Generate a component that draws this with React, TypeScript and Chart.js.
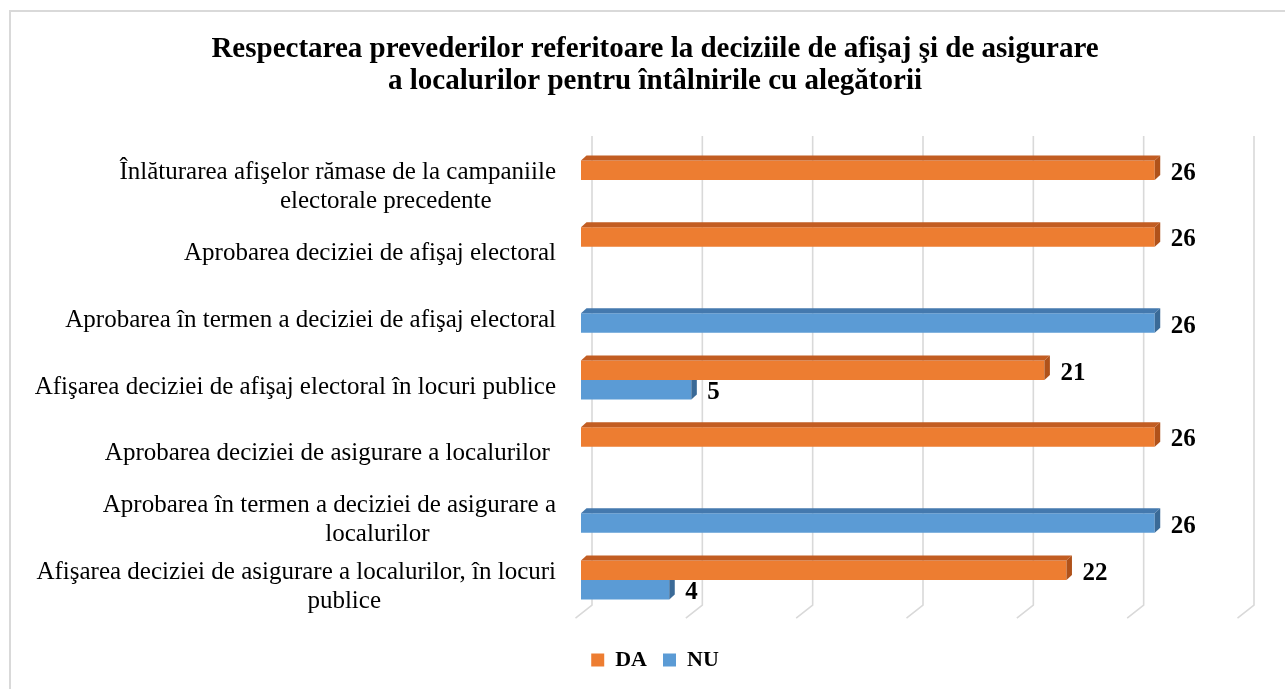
import React, { useEffect, useRef } from "react";
import { Chart, registerables } from "chart.js";

Chart.register(...registerables);

// ---------- data ----------
const titleLines = [
  "Respectarea prevederilor referitoare la deciziile de afişaj şi de asigurare",
  "a localurilor pentru întâlnirile cu alegătorii",
];
const categories: string[][] = [
  ["Înlăturarea afişelor rămase de la campaniile", "electorale precedente"],
  ["Aprobarea deciziei de afişaj electoral"],
  ["Aprobarea în termen a deciziei de afişaj electoral"],
  ["Afişarea deciziei de afişaj electoral în locuri publice"],
  ["Aprobarea deciziei de asigurare a localurilor "],
  ["Aprobarea în termen a deciziei de asigurare a", "localurilor"],
  ["Afişarea deciziei de asigurare a localurilor, în locuri", "publice"],
];
const seriesNames = ["DA", "NU"];
const daValues: (number | null)[] = [26, 26, null, 21, 26, null, 22];
const nuValues: (number | null)[] = [null, null, 26, 5, null, 26, 4];
const axisMin = 0;
const axisMax = 30;
const axisStep = 5;

// ---------- style ----------
const FONT = '"Liberation Serif", "Times New Roman", serif';
const frontColors = ["#ED7D31", "#5B9BD5"];
const topColors = ["#C25D22", "#4479AE"];
const sideColors = ["#B0521A", "#3A6A97"];
const DEPTH_X = 5.5;
const DEPTH_Y = 5;

const gridPlugin = {
  id: "backGrid",
  beforeDatasetsDraw(chart: any) {
    const { ctx, chartArea } = chart;
    const xs = chart.scales.x;
    ctx.save();
    ctx.strokeStyle = "#d9d9d9";
    ctx.lineWidth = 1.6;
    const top = chartArea.top - 10.7;
    const bottom = chartArea.bottom - 8.3;
    xs.ticks.forEach((t: any) => {
      const x = xs.getPixelForValue(t.value) + 11;
      ctx.beginPath();
      ctx.moveTo(x, top);
      ctx.lineTo(x, bottom);
      ctx.lineTo(x - 16.5, bottom + 13);
      ctx.stroke();
    });
    ctx.restore();
  },
};

const barFacesPlugin = {
  id: "barFaces",
  afterDatasetDraw(chart: any, args: any) {
    const { ctx } = chart;
    const di = args.index;
    const meta = args.meta;
    const data = chart.data.datasets[di].data;
    ctx.save();
    meta.data.forEach((el: any, j: number) => {
      if (data[j] == null) return;
      const { x, y, base, height } = el.getProps(["x", "y", "base", "height"], true);
      const top = y - height / 2;
      const bottom = y + height / 2;
      ctx.fillStyle = topColors[di];
      ctx.beginPath();
      ctx.moveTo(base, top);
      ctx.lineTo(base + DEPTH_X, top - DEPTH_Y);
      ctx.lineTo(x + DEPTH_X, top - DEPTH_Y);
      ctx.lineTo(x, top);
      ctx.closePath();
      ctx.fill();
      ctx.fillStyle = sideColors[di];
      ctx.beginPath();
      ctx.moveTo(x, top);
      ctx.lineTo(x + DEPTH_X, top - DEPTH_Y);
      ctx.lineTo(x + DEPTH_X, bottom - DEPTH_Y);
      ctx.lineTo(x, bottom);
      ctx.closePath();
      ctx.fill();
    });
    ctx.restore();
  },
};

const valueLabelsPlugin = {
  id: "valueLabels",
  afterDatasetsDraw(chart: any) {
    const { ctx } = chart;
    ctx.save();
    ctx.font = `bold 25px ${FONT}`;
    ctx.fillStyle = "#000";
    ctx.textAlign = "left";
    ctx.textBaseline = "middle";
    chart.data.datasets.forEach((ds: any, di: number) => {
      const meta = chart.getDatasetMeta(di);
      meta.data.forEach((el: any, j: number) => {
        const v = ds.data[j];
        if (v == null) return;
        ctx.fillText(String(v), el.x + 16, el.y + 3);
      });
    });
    ctx.restore();
  },
};

const categoryLabelsPlugin = {
  id: "categoryLabels",
  afterDraw(chart: any) {
    const { ctx, chartArea } = chart;
    const ys = chart.scales.y;
    const right = chartArea.left - 25;
    const lineH = 29;
    ctx.save();
    ctx.font = `25px ${FONT}`;
    ctx.fillStyle = "#000";
    ctx.textBaseline = "middle";
    (chart.data.labels as string[][]).forEach((lines, i) => {
      const cy = ys.getPixelForTick(i) + 7;
      const n = lines.length;
      const w0 = ctx.measureText(lines[0]).width;
      const contCenter = right - w0 / 2 + 48;
      lines.forEach((line, k) => {
        const y = cy + (k - (n - 1) / 2) * lineH;
        if (k === 0) {
          ctx.textAlign = "right";
          ctx.fillText(line, right, y);
        } else {
          ctx.textAlign = "center";
          ctx.fillText(line, contCenter, y);
        }
      });
    });
    ctx.restore();
  },
};

export default function App() {
  const ref = useRef<HTMLCanvasElement | null>(null);

  useEffect(() => {
    if (!ref.current) return;
    const chart = new Chart(ref.current, {
      type: "bar",
      data: {
        labels: categories,
        datasets: [
          {
            label: seriesNames[0],
            data: daValues,
            backgroundColor: frontColors[0],
            borderWidth: 0,
            categoryPercentage: 0.585,
            barPercentage: 1,
          },
          {
            label: seriesNames[1],
            data: nuValues,
            backgroundColor: frontColors[1],
            borderWidth: 0,
            categoryPercentage: 0.585,
            barPercentage: 1,
          },
        ],
      },
      options: {
        indexAxis: "y",
        responsive: false,
        animation: false,
        devicePixelRatio: 1,
        layout: { padding: { left: 56, right: 56, top: 0, bottom: 21 } },
        scales: {
          x: {
            type: "linear",
            min: axisMin,
            max: axisMax,
            ticks: { display: false, stepSize: axisStep },
            grid: { display: false },
            border: { display: false },
            afterFit: (s: any) => {
              s.height = 19.67;
            },
          },
          y: {
            type: "category",
            ticks: { display: false },
            grid: { display: false },
            border: { display: false },
            afterFit: (s: any) => {
              s.width = 514;
            },
          },
        },
        plugins: {
          title: {
            display: true,
            text: titleLines,
            color: "#000",
            font: { family: FONT, size: 29, weight: "bold", lineHeight: 32 / 29 },
            padding: { top: 22, bottom: 48.67 },
          },
          legend: {
            display: true,
            position: "bottom",
            labels: {
              boxWidth: 13,
              boxHeight: 13,
              padding: 16,
              color: "#000",
              font: { family: FONT, size: 22, weight: "bold" },
            },
          },
          tooltip: { enabled: false },
        },
      },
      plugins: [gridPlugin, barFacesPlugin, valueLabelsPlugin, categoryLabelsPlugin],
    } as any);
    return () => chart.destroy();
  }, []);

  return (
    <div
      style={{
        position: "fixed",
        left: 0,
        top: 0,
        width: 1285,
        height: 689,
        overflow: "hidden",
        background: "#fff",
      }}
    >
      <div
        style={{
          position: "absolute",
          left: 9,
          top: 10,
          width: 1288,
          height: 690,
          border: "2px solid #d9d9d9",
          background: "#fff",
        }}
      >
        <canvas ref={ref} width={1288} height={690} style={{ display: "block" }} />
      </div>
    </div>
  );
}
